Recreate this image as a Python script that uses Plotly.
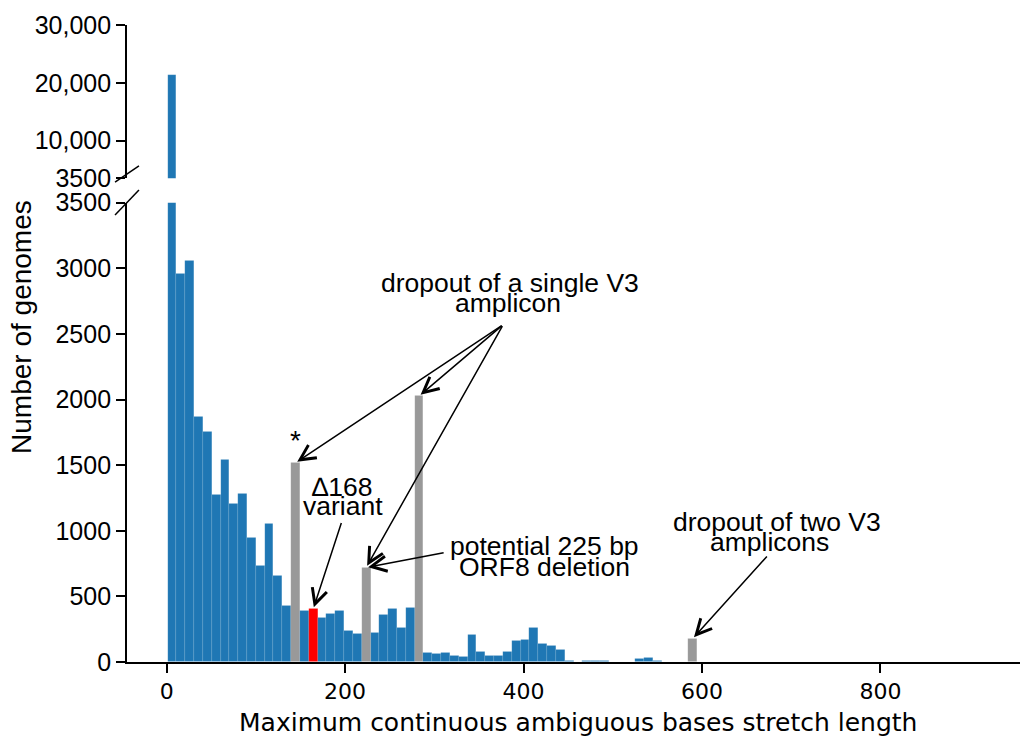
import plotly.graph_objects as go

# ---------------- data ----------------
bin_start = 1.0          # smallest stretch length in the data
bin_end = 911.0          # largest stretch length in the data
n_bins = 92

counts = [
    21400, 2962, 3059, 1869, 1754, 1271, 1538, 1208, 1284, 946,
    730, 1050, 661, 428, 1518, 390, 403, 336, 369, 390,
    242, 217, 720, 221, 361, 404, 262, 412, 2027, 70,
    60, 70, 51, 38, 211, 76, 46, 51, 82, 160,
    173, 262, 140, 122, 97, 6, 3, 8, 8, 6,
    0, 0, 0, 23, 36, 10, 0, 0, 0, 178,
    0, 0, 0, 0, 0, 0, 0, 0, 0, 0,
    0, 0, 0, 0, 0, 0, 0, 0, 0, 0,
    0, 0, 0, 0, 0, 0, 0, 0, 0, 0,
    0, 1,
]
grey_bins = [14, 22, 28, 59]   # amplicon dropouts / ORF8 deletion
red_bins = [16]                # delta-168 variant

lower_ticks = [0, 500, 1000, 1500, 2000, 2500, 3000, 3500]
upper_ticks = [3500, 10000, 20000, 30000]
upper_ticktext = ["3500", "10,000", "20,000", "30,000"]
x_ticks = [0, 200, 400, 600, 800]

BLUE, GREY, RED = "#1f77b4", "#999999", "#ff0000"

width = (bin_end - bin_start) / n_bins
centers = [bin_start + (i + 0.5) * width for i in range(n_bins)]
colors = [RED if i in red_bins else GREY if i in grey_bins else BLUE for i in range(n_bins)]

fig = go.Figure()
for xa, ya in (("x", "y"), ("x2", "y2")):
    fig.add_trace(go.Bar(
        x=centers, y=counts, width=width, xaxis=xa, yaxis=ya,
        marker=dict(color=colors, line=dict(width=0.4, color="rgba(255,255,255,0.2)")),
        showlegend=False, hoverinfo="x+y",
    ))

axis_common = dict(showgrid=False, zeroline=False, showline=True, linecolor="black",
                   linewidth=1.8, ticks="outside", tickcolor="black", tickwidth=1.5, ticklen=9)

fig.update_layout(
    width=1020, height=740,
    margin=dict(l=127, r=0, t=25, b=78),
    plot_bgcolor="white", paper_bgcolor="white",
    bargap=0,
    xaxis=dict(domain=[0, 1], range=[-44.5, 956.5], tickvals=x_ticks, anchor="y",
               tickfont=dict(family="DejaVu Sans", size=22, color="black"), **axis_common),
    xaxis2=dict(domain=[0, 1], matches="x", anchor="y2", visible=False),
    yaxis=dict(domain=[0, 0.721], range=[0, 3500], tickvals=lower_ticks, anchor="x",
               tickfont=dict(family="Liberation Sans", size=25, color="black"), **axis_common),
    yaxis2=dict(domain=[0.7593, 1], range=[3500, 30000], tickvals=upper_ticks,
                ticktext=upper_ticktext, anchor="x2",
                tickfont=dict(family="Liberation Sans", size=25, color="black"), **axis_common),
)

# broken-axis marks
for (y0, y1) in ((0.7535, 0.7787), (0.7017, 0.741)):
    fig.add_shape(type="line", xref="paper", yref="paper", x0=-0.0134, x1=0.0134,
                  y0=y0, y1=y1, line=dict(color="black", width=1.5))

# axis titles
fig.add_annotation(text="Number of genomes", xref="paper", yref="paper", x=-0.1176, y=0.526,
                   xanchor="center", yanchor="middle", textangle=-90, showarrow=False,
                   font=dict(family="Liberation Sans", size=28, color="black"))
fig.add_annotation(text="Maximum continuous ambiguous bases stretch length", xref="paper",
                   yref="paper", x=0.5045, y=-0.0942, xanchor="center", yanchor="middle",
                   showarrow=False, font=dict(family="DejaVu Sans", size=25, color="black"))

afont = dict(family="Liberation Sans", size=26.5, color="black")
labels = [
    ("dropout of a single V3", 385, 2891),
    ("amplicon", 383, 2738),
    ("\u2206168", 197, 1335),
    ("variant", 197.5, 1190),
    ("potential 225 bp", 424, 885),
    ("ORF8 deletion", 424, 725),
    ("dropout of two V3", 684, 1068),
    ("amplicons", 676, 915),
]
for t, x, y in labels:
    fig.add_annotation(text=t, x=x, y=y, xref="x", yref="y", showarrow=False,
                       xanchor="center", yanchor="middle", font=afont)

# star above the first dropout bar
fig.add_annotation(text="*", x=centers[14], y=counts[14], xref="x", yref="y", showarrow=False,
                   yshift=22, font=dict(family="Liberation Sans", size=28, color="black"))

arrows = [
    (14, 377.2, 2571),
    (28, 377.2, 2571),
    (22, 377.2, 2571),
    (16, 196.3, 1070),
    (22, 312.1, 834),
    (59, 674.3, 816),
]
for b, ax, ay in arrows:
    fig.add_annotation(text="", x=centers[b], y=counts[b], xref="x", yref="y",
                       ax=ax, ay=ay, axref="x", ayref="y", showarrow=True,
                       arrowhead=5, arrowsize=2, arrowwidth=1.5, arrowcolor="black",
                       standoff=2)

fig.write_html("out.html")
